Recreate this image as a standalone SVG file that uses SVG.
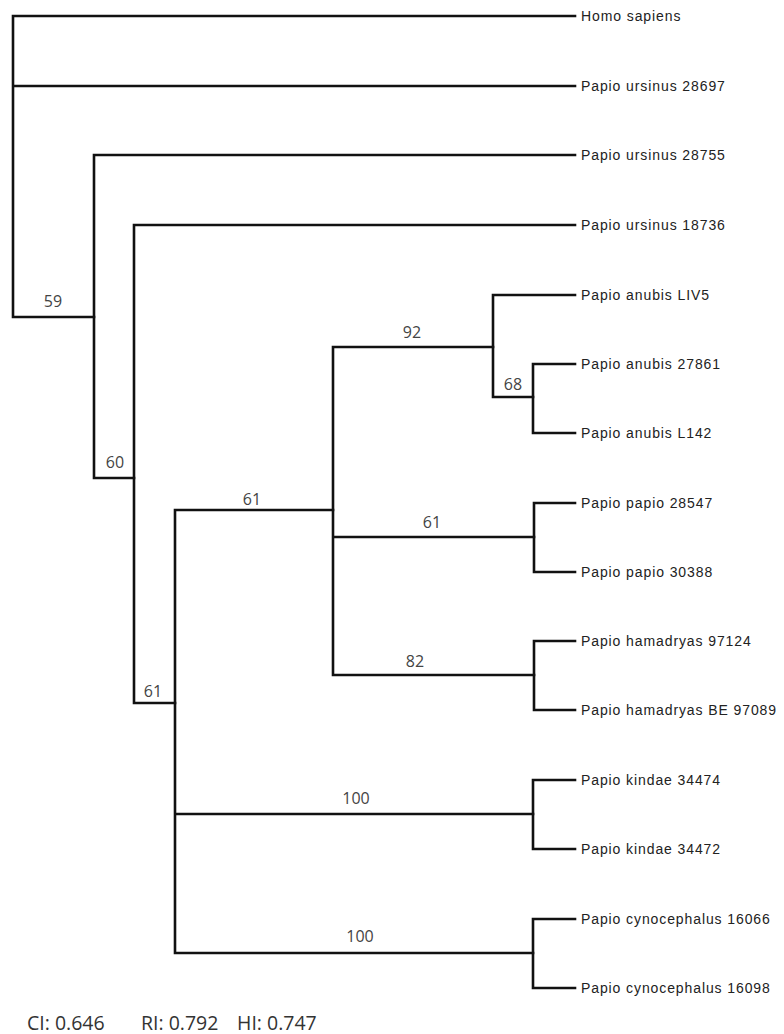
<svg xmlns="http://www.w3.org/2000/svg" width="784" height="1034" viewBox="0 0 784 1034">
<style>
.br{fill:none;stroke:#111;stroke-width:2.6;stroke-linecap:square;stroke-linejoin:miter}
.leaf{font-family:"Liberation Sans",Arial,sans-serif;font-size:14px;letter-spacing:0.9px;fill:#222}
.sup{font-family:"Open Sans","DejaVu Sans",sans-serif;font-size:16px;fill:#444;text-anchor:middle}
.idx{font-family:"Open Sans","DejaVu Sans",sans-serif;font-size:19.5px;fill:#333}
</style>
<rect width="784" height="1034" fill="#fff"/>
<g id="connectors">
<path class="br" d="M575,16H13V317H94M13,86H575"/>
<path class="br" d="M575,155H94V478H134"/>
<path class="br" d="M575,225H134V703H175"/>
<path class="br" d="M333,510H175V953H533M175,814H533"/>
<path class="br" d="M493,347H333V675H534M333,537H534"/>
<path class="br" d="M575,295H493V397H533"/>
<path class="br" d="M575,364H533V433H575"/>
<path class="br" d="M575,503H534V572H575"/>
<path class="br" d="M575,641H534V710H575"/>
<path class="br" d="M575,780H533V849H575"/>
<path class="br" d="M575,919H533V988H575"/>
</g>
<g id="support">
<text class="sup" x="53" y="307">59</text>
<text class="sup" x="115" y="468">60</text>
<text class="sup" x="153" y="697">61</text>
<text class="sup" x="252" y="505">61</text>
<text class="sup" x="412" y="338">92</text>
<text class="sup" x="513" y="390">68</text>
<text class="sup" x="432" y="528">61</text>
<text class="sup" x="415" y="667">82</text>
<text class="sup" x="356" y="804">100</text>
<text class="sup" x="360" y="942">100</text>
</g>
<g id="leaf-homo"><text class="leaf" x="581" y="21">Homo sapiens</text></g>
<g id="leaf-urs28697"><text class="leaf" x="581" y="91">Papio ursinus 28697</text></g>
<g id="leaf-urs28755"><text class="leaf" x="581" y="160">Papio ursinus 28755</text></g>
<g id="leaf-urs18736"><text class="leaf" x="581" y="230">Papio ursinus 18736</text></g>
<g id="leaf-anuLIV5"><text class="leaf" x="581" y="300">Papio anubis LIV5</text></g>
<g id="leaf-anu27861"><text class="leaf" x="581" y="369">Papio anubis 27861</text></g>
<g id="leaf-anuL142"><text class="leaf" x="581" y="438">Papio anubis L142</text></g>
<g id="leaf-pap28547"><text class="leaf" x="581" y="508">Papio papio 28547</text></g>
<g id="leaf-pap30388"><text class="leaf" x="581" y="577">Papio papio 30388</text></g>
<g id="leaf-ham97124"><text class="leaf" x="581" y="646">Papio hamadryas 97124</text></g>
<g id="leaf-ham97089"><text class="leaf" x="581" y="715">Papio hamadryas BE 97089</text></g>
<g id="leaf-kin34474"><text class="leaf" x="581" y="785">Papio kindae 34474</text></g>
<g id="leaf-kin34472"><text class="leaf" x="581" y="854">Papio kindae 34472</text></g>
<g id="leaf-cyn16066"><text class="leaf" x="581" y="924">Papio cynocephalus 16066</text></g>
<g id="leaf-cyn16098"><text class="leaf" x="581" y="993">Papio cynocephalus 16098</text></g>
<g id="indices">
<text class="idx" x="27" y="1030">CI: 0.646</text>
<text class="idx" x="141" y="1030">RI: 0.792</text>
<text class="idx" x="237" y="1030">HI: 0.747</text>
</g>
</svg>
